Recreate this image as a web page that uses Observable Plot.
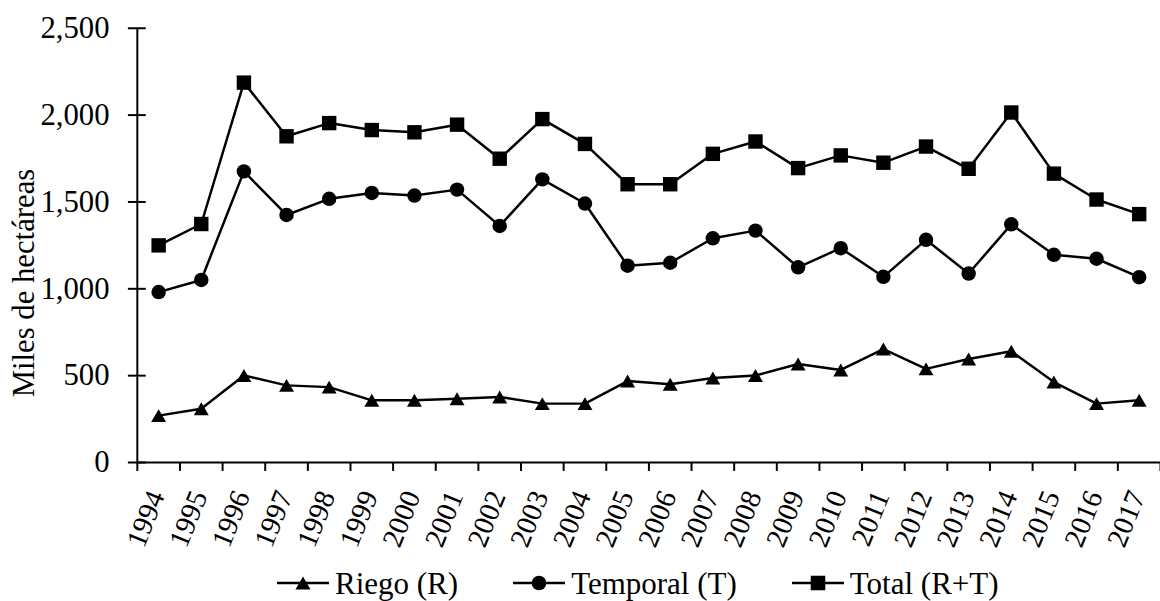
<!DOCTYPE html>
<html>
<head>
<meta charset="utf-8">
<script src="https://cdn.jsdelivr.net/npm/d3@7"></script>
<script src="https://cdn.jsdelivr.net/npm/@observablehq/plot@0.6"></script>
<style>
  html, body { margin: 0; padding: 0; background: #fff; overflow: hidden; width: 1160px; height: 601px; }
  #chart svg { display: block; }
  #legend { display: flex; align-items: center; height: 38px; padding-top: 9px; padding-left: 277px; font-family: "Liberation Serif", "Times New Roman", serif; font-size: 31px; color: #000; line-height: 1; }
  .item { display: flex; align-items: center; margin-right: 55px; }
  .item svg { display: block; margin-right: 6px; }
</style>
</head>
<body>
<div id="chart"></div>
<div id="legend"></div>
<script>
const years = [1994, 1995, 1996, 1997, 1998, 1999, 2000, 2001, 2002, 2003, 2004, 2005,
               2006, 2007, 2008, 2009, 2010, 2011, 2012, 2013, 2014, 2015, 2016, 2017];
const riego = [270, 310, 501, 444, 434, 358, 358, 367, 377, 339, 339, 469,
               450, 486, 501, 567, 533, 653, 539, 596, 640, 463, 339, 358];
const temporal = [981, 1051, 1676, 1425, 1518, 1552, 1537, 1571, 1362, 1630, 1491, 1133,
                  1150, 1291, 1335, 1124, 1234, 1069, 1282, 1088, 1371, 1196, 1173, 1067];
const total = [1250, 1373, 2187, 1878, 1954, 1914, 1901, 1945, 1749, 1977, 1834, 1602,
               1602, 1777, 1848, 1695, 1768, 1726, 1819, 1691, 2015, 1663, 1514, 1430];
const seriesNames = ["Riego (R)", "Temporal (T)", "Total (R+T)"];
const yTicks = [0, 500, 1000, 1500, 2000, 2500];
const yLabel = "Miles de hectáreas";

const FONT = "Liberation Serif, Times New Roman, serif";

// triangle centred on its bounding box (like spreadsheet markers)
const triBox = {
  draw(ctx, size) {
    const s = Math.sqrt(size * 4 / Math.sqrt(3));
    const h = s * Math.sqrt(3) / 2;
    ctx.moveTo(0, -h / 2);
    ctx.lineTo(s / 2, h / 2);
    ctx.lineTo(-s / 2, h / 2);
    ctx.closePath();
  }
};

const series = [
  {name: seriesNames[0], values: riego, symbol: triBox, r: 5.6},
  {name: seriesNames[1], values: temporal, symbol: "circle", r: 7.3},
  {name: seriesNames[2], values: total, symbol: "square", r: 8.2}
];

const rows = series.flatMap(s => years.map((yr, i) => ({series: s.name, year: yr, value: s.values[i]})));
const bounds = years.map(y => y - 0.5).concat([years[years.length - 1] + 0.5]);
const x0 = years[0] - 0.5;

const marks = [];
// axis lines
marks.push(Plot.ruleY([0], {x1: x0, x2: bounds[bounds.length - 1], stroke: "#000", strokeWidth: 2}));
marks.push(Plot.ruleX([x0], {y1: 0, y2: yTicks[yTicks.length - 1], stroke: "#000", strokeWidth: 2}));
// y axis: crossing ticks + labels
marks.push(Plot.axisY({ticks: yTicks, tickSize: 18, dx: 9, tickPadding: 19, strokeWidth: 2,
  tickFormat: d3.format(","), fontSize: 31, fontFamily: FONT, label: null, color: "#000"}));
// x axis tick marks at category boundaries
marks.push(Plot.axisX({ticks: bounds, tickSize: 9, strokeWidth: 2, tickFormat: () => "", label: null, color: "#000"}));
// x axis labels
marks.push(Plot.axisX({ticks: years, tickSize: 0, tickPadding: 30, tickRotate: -68, dx: -2,
  tickFormat: d => String(d), fontSize: 29, fontFamily: FONT, label: null, color: "#000"}));
// y label
marks.push(Plot.text([yLabel], {frameAnchor: "left", dx: -114, dy: 38, rotate: -90, text: d => d,
  fontSize: 31, fontFamily: FONT, fill: "#000", textAnchor: "middle", lineAnchor: "middle"}));
// series
for (const s of series) {
  const data = rows.filter(d => d.series === s.name);
  marks.push(Plot.line(data, {x: "year", y: "value", stroke: "#000", strokeWidth: 2.5}));
  marks.push(Plot.dot(data, {x: "year", y: "value", symbol: () => s.symbol, r: s.r, fill: "#000", stroke: "none"}));
}

const chart = Plot.plot({
  width: 1170,
  height: 560,
  marginTop: 28,
  marginBottom: 94,
  marginLeft: 138,
  marginRight: 0,
  style: {fontFamily: FONT, color: "#000", background: "#fff"},
  x: {type: "linear", domain: [x0, bounds[bounds.length - 1]], axis: null},
  y: {domain: [0, yTicks[yTicks.length - 1]], axis: null},
  symbol: {type: "identity"},
  marks
});
document.getElementById("chart").appendChild(chart);

// legend
const legend = document.getElementById("legend");
for (const s of series) {
  const item = document.createElement("div");
  item.className = "item";
  const svg = d3.create("svg").attr("width", 52).attr("height", 30);
  svg.append("line").attr("x1", 0).attr("x2", 52).attr("y1", 15).attr("y2", 15)
     .attr("stroke", "#000").attr("stroke-width", 2.5);
  const sym = typeof s.symbol === "string"
    ? (s.symbol === "circle" ? d3.symbolCircle : d3.symbolSquare) : s.symbol;
  svg.append("path").attr("transform", "translate(26,15)")
     .attr("d", d3.symbol(sym, s.r * s.r * Math.PI)()).attr("fill", "#000");
  item.appendChild(svg.node());
  const span = document.createElement("span");
  span.textContent = s.name;
  item.appendChild(span);
  legend.appendChild(item);
}
</script>
</body>
</html>
